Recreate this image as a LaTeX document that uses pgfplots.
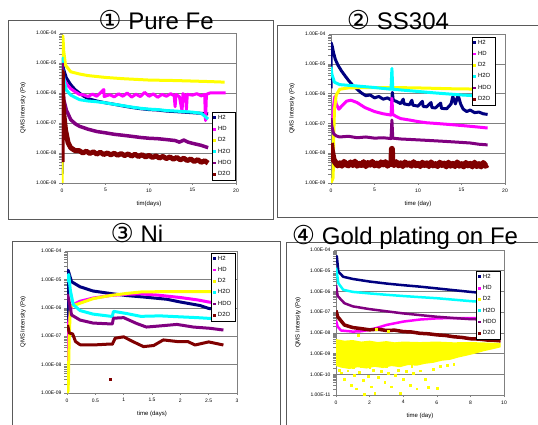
\documentclass[border=0pt]{standalone}
\usepackage{fontspec}
\setmainfont{Liberation Sans}
\newfontfamily\sym{DejaVu Sans}
\usepackage{pgfplots}
\pgfplotsset{compat=1.18}

\definecolor{cH2}{RGB}{0,0,128}
\definecolor{cHD}{RGB}{255,0,255}
\definecolor{cD2}{RGB}{255,255,0}
\definecolor{cH2O}{RGB}{0,255,255}
\definecolor{cHDO}{RGB}{128,0,128}
\definecolor{cD2O}{RGB}{128,0,0}
\definecolor{framegray}{RGB}{90,90,90}
\definecolor{gridgray}{RGB}{128,128,128}

\pgfplotsset{
  legend image code/.code={\fill[#1,draw=none] (0pt,-1.4pt) rectangle (2.8pt,1.4pt);},
}

\pgfplotsset{
  every axis/.append style={
    scale only axis,
    xmin=0,
    axis line style={draw=gridgray, line width=0.5pt},
    ymajorgrids,
    major grid style={draw=gridgray, line width=0.5pt},
    tick style={draw=gridgray, line width=0.4pt},
    major tick length=2pt,
    tick align=outside,
    tick pos=left,
    ticklabel style={font=\fontsize{5}{6}\selectfont},
    xticklabel style={/pgf/number format/assume math mode=true},
    label style={font=\fontsize{6}{7}\selectfont},
    ylabel style={anchor=center},
    xlabel style={at={(axis description cs:0.5,0)}, yshift=-21pt, anchor=center},
    legend style={font=\fontsize{6}{7}\selectfont, draw=black, line width=0.4pt,
      fill=white, inner xsep=1.5pt, inner ysep=0.8pt, row sep=1.6pt,
      cells={anchor=west}},
  },
}

\begin{document}
\begin{tikzpicture}
\useasboundingbox (0pt,0pt) rectangle (538pt,425pt);
\fill[white] (0pt,0pt) rectangle (538pt,425pt);
\clip (0pt,0pt) rectangle (538pt,425pt);

% panel frames
\draw[framegray, line width=0.6pt] (8pt,405pt) rectangle (273pt,206pt);
\draw[framegray, line width=0.6pt] (277pt,400pt) rectangle (545pt,208pt);
\draw[framegray, line width=0.6pt] (12pt,184pt) rectangle (280pt,-5pt);
\draw[framegray, line width=0.6pt] (286pt,183pt) rectangle (545pt,-5pt);

% ---------------- 1 Pure Fe ----------------
\begin{axis}[ymode=log, ymin=1e-9, ymax=1e-4,
  ytick={1e-9,1e-8,1e-7,1e-6,1e-5,1e-4},
  yticklabels={1.00E-09,1.00E-08,1.00E-07,1.00E-06,1.00E-05,1.00E-04},
  at={(62pt,242pt)}, anchor=south west,
  width=174pt, height=150pt, xmax=20, xtick={0,5,10,15,20},
  xlabel={tim(days)}, ylabel={QMS Intensity (Pa)},
  ylabel style={at={(axis description cs:-0.224,0.5)}},
  legend style={at={(0.995,0.473)}, anchor=north east}]
\addplot[cH2, line width=3pt, line join=round] coordinates {(0,2e-9)(0.02,1.3e-5)(0.1,8.5e-6)(0.2,6e-6)(0.5,3.2e-6)(1,1.9e-6)(1.5,1.3e-6)(2,1.0e-6)(2.5,7.8e-7)(3,6.5e-7)(4,5.4e-7)(5,4.7e-7)(6,4.2e-7)(7,3.7e-7)(8,3.3e-7)(9,3.0e-7)(10,2.8e-7)(11,2.7e-7)(12,2.5e-7)(13,2.4e-7)(14,2.3e-7)(15,2.2e-7)(16,2.1e-7)(16.8,2.0e-7)};
\addplot[cHD, line width=3pt, line join=round] coordinates {(0,5e-9)(0.05,2e-6)(0.2,3e-6)(0.5,2e-6)(1,1.4e-6)(1.5,1.1e-6)(2,9.0e-7)(2.5,8.6e-7)(3,7.6e-7)(3.5,9.2e-7)(4,7.8e-7)(4.8,1.3e-6)(4.85,7.6e-7)(5.5,8.8e-7)(6,7.4e-7)(6.5,9.4e-7)(7,7.8e-7)(7.5,1.0e-6)(8,7.3e-7)(8.5,9.1e-7)(9,7.6e-7)(9.5,1.05e-6)(10,7.8e-7)(10.5,9.3e-7)(11,7.2e-7)(11.5,9e-7)(12,7.8e-7)(12.5,9.5e-7)(12.9,8e-7)(13,3.5e-7)(13.1,9e-7)(13.5,7.5e-7)(13.8,2.5e-7)(13.9,9.5e-7)(14.2,8e-7)(14.3,2.8e-7)(14.4,9e-7)(15,8.5e-7)(15.5,9.5e-7)(16,8e-7)(16.4,9e-7)(16.5,1.2e-7)(16.6,9e-7)(17,1.0e-6)(18,1.0e-6)(18.8,1.0e-6)};
\addplot[cD2, line width=3pt, line join=round] coordinates {(0,1e-9)(0.03,5e-5)(0.1,8e-5)(0.2,2.5e-5)(0.4,8.5e-6)(1,5.1e-6)(2,4.3e-6)(3,3.8e-6)(5,3.3e-6)(7,3.0e-6)(10,2.7e-6)(13,2.6e-6)(15,2.5e-6)(17,2.4e-6)(18.7,2.3e-6)};
\addplot[cH2O, line width=3pt, line join=round] coordinates {(0,1.6e-5)(0.1,5e-6)(0.3,2.2e-6)(0.5,1.26e-6)(1,8.5e-7)(2,6.0e-7)(3,5.4e-7)(4,5.1e-7)(5,4.7e-7)(6,4.2e-7)(7,3.8e-7)(8,3.4e-7)(9,3.1e-7)(10,2.9e-7)(11,2.8e-7)(12,2.6e-7)(13,2.5e-7)(14,2.4e-7)(15,2.3e-7)(16,2.1e-7)(16.4,1.7e-7)(16.8,1.35e-7)};
\addplot[cHDO, line width=3.5pt, line join=round] coordinates {(0,1e-5)(0.1,1.5e-6)(0.2,6e-7)(0.5,2.7e-7)(1,1.3e-7)(1.5,9.5e-8)(2,7.8e-8)(3,6.2e-8)(4,5.2e-8)(5,4.7e-8)(6,4.2e-8)(7,3.9e-8)(8,3.6e-8)(9,3.3e-8)(10,3.1e-8)(11,3.0e-8)(12,2.8e-8)(13,2.6e-8)(13.5,2.3e-8)(14,2.7e-8)(14.5,2.3e-8)(15,2.1e-8)(16,1.8e-8)(16.8,1.5e-8)};
\addplot[cD2O, line width=5pt, line join=round] coordinates {(0,5e-9)(0.03,5e-6)(0.08,8e-7)(0.2,2e-7)(0.4,6e-8)(0.7,2.2e-8)(1,1.5e-8)(1.5,1.2e-8)(2,1.19e-8)(2.4,1.0e-8)(2.8,1.15e-8)(3.2,9.6e-9)(3.6,1.1e-8)(4,9.2e-9)(4.4,1.06e-8)(4.8,8.9e-9)(5.2,1.0e-8)(5.6,8.7e-9)(6,9.8e-9)(6.4,8.4e-9)(6.8,9.6e-9)(7.2,8.2e-9)(7.6,9.3e-9)(8,7.9e-9)(8.4,9.1e-9)(8.8,7.6e-9)(9.2,8.8e-9)(9.6,7.4e-9)(10,8.3e-9)(10.4,7.1e-9)(10.8,8.0e-9)(11.2,6.8e-9)(11.6,7.7e-9)(12,6.5e-9)(12.4,7.4e-9)(12.8,6.2e-9)(13.2,7.1e-9)(13.6,5.9e-9)(14,6.7e-9)(14.4,5.6e-9)(14.8,6.3e-9)(15.2,5.2e-9)(15.6,6.0e-9)(16,4.9e-9)(16.4,5.5e-9)(16.8,4.6e-9)};
\legend{H2,HD,D2,H2O,HDO,D2O}
\end{axis}

% ---------------- 2 SS304 ----------------
\begin{axis}[ymode=log, ymin=1e-9, ymax=1e-4,
  ytick={1e-9,1e-8,1e-7,1e-6,1e-5,1e-4},
  yticklabels={1.00E-09,1.00E-08,1.00E-07,1.00E-06,1.00E-05,1.00E-04},
  at={(331pt,242pt)}, anchor=south west,
  width=174pt, height=149pt, xmax=20, xtick={0,5,10,15,20},
  xlabel={time (day)}, ylabel={QMS Intensity (Pa)},
  ylabel style={at={(axis description cs:-0.224,0.5)}},
  legend style={at={(0.943,0.98)}, anchor=north east}]
\addplot[cH2, line width=3pt, line join=round] coordinates {(0,1.5e-6)(0.03,5e-5)(0.15,3.8e-5)(0.3,2.3e-5)(0.5,1.4e-5)(0.8,9e-6)(1.2,5.8e-6)(1.6,4e-6)(2,2.8e-6)(2.5,1.9e-6)(3,1.4e-6)(3.5,1.05e-6)(4,8.5e-7)(4.5,9e-7)(5,7.2e-7)(5.5,8e-7)(6,6.5e-7)(6.5,7.2e-7)(7,5.8e-7)(7.05,1.1e-6)(7.15,6e-7)(7.5,5.5e-7)(8,4.6e-7)(8.3,6.5e-7)(8.4,4.5e-7)(9,4.2e-7)(9.3,6e-7)(9.4,4.1e-7)(10,3.8e-7)(10.5,5.5e-7)(10.6,3.7e-7)(11,3.6e-7)(11.5,5e-7)(11.6,3.4e-7)(12,3.3e-7)(12.6,4.8e-7)(12.7,3.2e-7)(13.3,3.1e-7)(13.8,4.5e-7)(14,8e-7)(14.3,4.5e-7)(14.6,9e-7)(14.9,4.5e-7)(15.2,3.0e-7)(15.6,2.5e-7)(16,2.8e-7)(16.5,2.3e-7)(17,2.4e-7)(17.5,2.1e-7)(18,2.0e-7)};
\addplot[cHD, line width=3pt, line join=round] coordinates {(0.15,1e-7)(0.3,4e-7)(0.45,8e-7)(0.6,4.5e-7)(0.9,3.0e-7)(1.3,4e-7)(1.8,5.6e-7)(2.3,6.0e-7)(3,5.0e-7)(3.9,3.4e-7)(5,2.5e-7)(6,2.1e-7)(6.9,1.9e-7)(7,7e-7)(7.1,2e-7)(7.5,1.7e-7)(8,1.45e-7)(9,1.3e-7)(10,1.15e-7)(11,1.05e-7)(12,1.0e-7)(13,9.5e-8)(14,9e-8)(15,8.5e-8)(16,8e-8)(17,7.5e-8)(18,7e-8)};
\addplot[cD2, line width=3pt, line join=round] coordinates {(0,1e-9)(0.25,1.5e-9)(0.3,3e-8)(0.4,3e-7)(0.6,9e-7)(1,1.4e-6)(2,1.55e-6)(4,1.6e-6)(7,1.6e-6)(10,1.55e-6)(14,1.45e-6)(18,1.4e-6)};
\addplot[cH2O, line width=3pt, line join=round] coordinates {(0,8e-6)(0.1,4.5e-6)(0.4,2.4e-6)(1,2.0e-6)(3,1.8e-6)(5,1.6e-6)(6.9,1.4e-6)(7,7e-6)(7.1,1.4e-6)(9,1.25e-6)(12,1.05e-6)(15,9e-7)(18,8e-7)};
\addplot[cHDO, line width=3pt, line join=round] coordinates {(0,1.5e-7)(0.1,8e-8)(0.3,4.5e-8)(0.6,3.8e-8)(1,3.5e-8)(2,3.7e-8)(3,3.3e-8)(4,3.5e-8)(5,3.2e-8)(6,3.3e-8)(6.9,3.1e-8)(7,1.3e-7)(7.1,3.2e-8)(8,3.0e-8)(9,2.9e-8)(10,2.8e-8)(11,2.7e-8)(12,2.6e-8)(13,2.5e-8)(14,2.4e-8)(15,2.3e-8)(16,2.2e-8)(17,2.0e-8)(18,1.9e-8)};
\addplot[cD2O, line width=6pt, line join=round] coordinates {(0,2.2e-8)(0.1,1.2e-8)(0.3,6e-9)(0.5,4.9e-9)(0.75,3.9e-9)(1.0,4.6e-9)(1.25,3.8e-9)(1.5,5.1e-9)(1.75,4.2e-9)(2.0,3.9e-9)(2.25,4.9e-9)(2.5,4.0e-9)(2.75,5.2e-9)(3.0,3.8e-9)(3.25,4.4e-9)(3.5,4.0e-9)(3.75,5.0e-9)(4.0,3.7e-9)(4.25,4.7e-9)(4.5,4.1e-9)(4.75,5.1e-9)(5.0,3.9e-9)(5.25,4.5e-9)(5.5,3.8e-9)(5.75,4.9e-9)(6.0,4.2e-9)(6.25,5.0e-9)(6.5,3.8e-9)(6.75,4.6e-9)(6.95,4.3e-9)(7.0,1.4e-8)(7.05,4.8e-9)(7.25,4.0e-9)(7.5,5.0e-9)(7.75,3.9e-9)(8.0,4.6e-9)(8.25,3.7e-9)(8.5,4.9e-9)(8.75,4.1e-9)(9.0,4.5e-9)(9.25,3.8e-9)(9.5,5.0e-9)(9.75,3.9e-9)(10.0,4.4e-9)(10.25,3.7e-9)(10.5,4.8e-9)(10.75,4.0e-9)(11.0,4.6e-9)(11.25,3.7e-9)(11.5,4.9e-9)(11.75,3.9e-9)(12.0,4.3e-9)(12.25,3.7e-9)(12.5,4.8e-9)(12.75,4.0e-9)(13.0,4.5e-9)(13.25,3.6e-9)(13.5,4.8e-9)(13.75,3.8e-9)(14.0,4.4e-9)(14.25,3.7e-9)(14.5,4.9e-9)(14.75,3.8e-9)(15.0,4.3e-9)(15.25,3.6e-9)(15.5,4.7e-9)(15.75,3.9e-9)(16.0,4.4e-9)(16.25,3.6e-9)(16.5,4.8e-9)(16.75,3.7e-9)(17.0,4.3e-9)(17.25,3.6e-9)(17.5,4.7e-9)(17.75,3.8e-9)(18.0,4.2e-9)};
\legend{H2,HD,D2,H2O,HDO,D2O}
\end{axis}

% ---------------- 3 Ni ----------------
\begin{axis}[ymode=log, ymin=1e-9, ymax=1e-4,
  ytick={1e-9,1e-8,1e-7,1e-6,1e-5,1e-4},
  yticklabels={1.00E-09,1.00E-08,1.00E-07,1.00E-06,1.00E-05,1.00E-04},
  at={(67pt,32pt)}, anchor=south west,
  width=170pt, height=142pt, xmax=3, xtick={0,0.5,1,1.5,2,2.5,3},
  xlabel={time (days)}, ylabel={QMS Intensity (Pa)},
  ylabel style={at={(axis description cs:-0.259,0.5)}},
  legend style={at={(0.988,0.986)}, anchor=north east}]
\addplot[cH2, line width=3pt, line join=round] coordinates {(0,1e-8)(0.02,2.1e-5)(0.08,8.3e-6)(0.23,5.5e-6)(0.46,3.9e-6)(0.76,3.2e-6)(1.05,2.7e-6)(1.35,2.4e-6)(1.76,2.0e-6)(2.0,1.6e-6)(2.35,1.2e-6)(2.5,9.5e-7)(2.72,8.5e-7)};
\addplot[cHD, line width=3pt, line join=round] coordinates {(0,1e-8)(0.03,3e-7)(0.08,1.2e-6)(0.23,1.7e-6)(0.46,2.2e-6)(0.76,2.7e-6)(1.05,3.0e-6)(1.3,3.1e-6)(1.6,2.8e-6)(2.0,2.3e-6)(2.3,1.9e-6)(2.5,1.6e-6)(2.72,1.4e-6)};
\addplot[cD2, line width=3pt, line join=round] coordinates {(0,1e-9)(0.02,1.2e-9)(0.04,1e-7)(0.06,1.1e-6)(0.23,1.45e-6)(0.46,2.1e-6)(0.76,2.7e-6)(1.05,3.2e-6)(1.3,3.6e-6)(1.64,3.7e-6)(2.0,3.7e-6)(2.47,3.7e-6)(2.72,3.7e-6)};
\addplot[cH2O, line width=3pt, line join=round] coordinates {(0,8e-6)(0.03,1.5e-5)(0.06,4e-6)(0.11,1.3e-6)(0.23,8e-7)(0.46,6e-7)(0.78,5e-7)(0.8,5e-7)(0.82,7.5e-7)(1.05,6.3e-7)(1.3,5.0e-7)(1.64,5.2e-7)(2.0,4.8e-7)(2.3,4.5e-7)(2.72,4.0e-7)};
\addplot[cHDO, line width=3pt, line join=round] coordinates {(0,3e-6)(0.03,2e-6)(0.08,5.6e-7)(0.23,3.7e-7)(0.46,2.9e-7)(0.78,2.7e-7)(0.8,2.7e-7)(0.82,4.3e-7)(1.0,4.5e-7)(1.23,2.8e-7)(1.4,2.1e-7)(1.64,2.3e-7)(1.94,2.6e-7)(2.23,2.1e-7)(2.52,1.9e-7)(2.76,1.65e-7)};
\addplot[cD2O, line width=3pt, line join=round] coordinates {(0.01,2.5e-7)(0.04,1.3e-7)(0.1,1.2e-7)(0.15,6.5e-8)(0.23,5e-8)(0.46,4.9e-8)(0.76,5.3e-8)(0.8,5.2e-8)(0.85,8.5e-8)(1.0,9.5e-8)(1.16,6.5e-8)(1.35,4.3e-8)(1.53,4.7e-8)(1.7,7.4e-8)(1.94,6.5e-8)(2.13,6.5e-8)(2.26,4.9e-8)(2.5,6.3e-8)(2.76,4.9e-8)};
\addplot[cD2O, only marks, mark=square*, mark size=1pt, forget plot] coordinates {(0.77,3e-9)};
\legend{H2,HD,D2,H2O,HDO,D2O}
\end{axis}

% ---------------- 4 Gold plating on Fe ----------------
\begin{axis}[ymode=log, ymin=1e-11, ymax=1e-4,
  ytick={1e-11,1e-10,1e-9,1e-8,1e-7,1e-6,1e-5,1e-4},
  yticklabels={1.00E-11,1.00E-10,1.00E-09,1.00E-08,1.00E-07,1.00E-06,1.00E-05,1.00E-04},
  at={(336pt,30pt)}, anchor=south west,
  width=168pt, height=145pt, xmax=10, xtick={0,2,4,6,8,10},
  xlabel={time (day)}, ylabel={QMS Intensity (Pa)},
  ylabel style={at={(axis description cs:-0.226,0.5)}},
  legend style={at={(0.976,0.855)}, anchor=north east}]
\addplot[cH2, line width=2.5pt, line join=round] coordinates {(0,4e-5)(0.05,5e-5)(0.14,9e-6)(0.43,5.1e-6)(1.0,4.0e-6)(2.0,3.0e-6)(3,2.4e-6)(4,2.0e-6)(5,1.7e-6)(6,1.4e-6)(7,1.15e-6)(8,9.5e-7)(9,8e-7)(9.8,7e-7)};
\addplot[cHD, line width=2.5pt, line join=round] coordinates {(0,4e-8)(0.1,2e-8)(0.3,1.3e-8)(1,1.15e-8)(1.5,1.2e-8)(2,1.4e-8)(2.5,1.8e-8)(3,2.4e-8)(4,3.5e-8)(5,4.4e-8)(6,5e-8)(7,5.2e-8)(8,5.2e-8)(9.8,5.2e-8)};
\addplot[cD2, fill=cD2, draw=none] coordinates {(0,5e-9)(0.5,4.2e-9)(1,4.5e-9)(1.5,3.8e-9)(2,4.2e-9)(2.5,3.6e-9)(3,4e-9)(3.5,3.5e-9)(4,3.8e-9)(5,3.6e-9)(6,3.8e-9)(7,3.5e-9)(8,3.6e-9)(9,3.4e-9)(9.8,3.3e-9)(9.8,2.0e-9)(9.3,1.6e-9)(8.8,1.3e-9)(8.3,1.0e-9)(7.8,8e-10)(7.3,6.5e-10)(6.8,5e-10)(6.3,4.5e-10)(5.8,3.6e-10)(5.3,3.2e-10)(4.8,2.6e-10)(4.3,2.8e-10)(3.8,2.2e-10)(3.3,2.5e-10)(2.8,2e-10)(2.3,2.3e-10)(1.8,1.9e-10)(1.3,2.2e-10)(0.8,1.8e-10)(0.3,2.1e-10)(0,2.5e-10)} -- cycle;
\addplot[cD2, only marks, mark=square*, mark size=0.9pt, forget plot] coordinates {(0.3,1.2e-10)(0.5,6e-11)(0.7,1.5e-10)(0.9,3e-11)(1.1,9e-11)(1.2,2e-11)(1.4,1.3e-10)(1.6,5e-11)(1.7,1.1e-11)(1.9,8e-11)(2.1,2.5e-11)(2.2,1.6e-10)(2.3,1.2e-11)(2.5,7e-11)(2.7,1.4e-10)(2.9,4e-11)(3.1,1.1e-10)(3.3,2.5e-11)(3.5,9e-11)(3.7,1.6e-10)(3.8,1.2e-11)(4.0,6e-11)(4.2,1.4e-10)(4.4,3e-11)(4.6,1.1e-10)(4.8,2e-11)(5.0,1.5e-10)(5.3,6e-11)(5.5,2.3e-11)(5.8,1.8e-10)(6.0,2.2e-11)(6.2,2.5e-10)(6.6,2.8e-10)(7.0,3e-10)(0.2,1.6e-10)(0.6,2.3e-10)(1.0,2.2e-10)(1.5,2.5e-10)(2.0,2.1e-10)(3.0,2.4e-10)(4.5,2.5e-10)(2.4,1.5e-8)(1.3,8e-9)(3.1,1.2e-8)};
\addplot[cH2O, line width=2.5pt, line join=round] coordinates {(0,1.4e-5)(0.05,8e-6)(0.14,2.5e-6)(0.43,1.2e-6)(1,9.5e-7)(2,8e-7)(3,6.9e-7)(4,6.0e-7)(5,5.3e-7)(6,4.7e-7)(7,4.0e-7)(8,3.4e-7)(9,3.0e-7)(9.8,2.7e-7)};
\addplot[cHDO, line width=2.5pt, line join=round] coordinates {(0,2e-6)(0.1,6e-7)(0.5,2.7e-7)(1,1.9e-7)(2,1.4e-7)(3,1.1e-7)(4,8.7e-8)(5,7.2e-8)(6,6e-8)(7,5.2e-8)(8,4.6e-8)(9,4.4e-8)(9.8,4.2e-8)};
\addplot[cD2O, line width=3.5pt, line join=round] coordinates {(0,1.2e-7)(0.1,6e-8)(0.5,2.4e-8)(1,1.8e-8)(1.5,1.6e-8)(2,1.4e-8)(2.5,1.5e-8)(3,1.3e-8)(3.5,1.35e-8)(4,1.15e-8)(4.5,1.1e-8)(5,9.5e-9)(5.5,9e-9)(6,8e-9)(6.5,7.5e-9)(7,6.5e-9)(7.5,6e-9)(8,5.2e-9)(8.5,5e-9)(9,4.5e-9)(9.4,4.4e-9)(9.8,4.1e-9)};
\legend{H2,HD,D2,H2O,HDO,D2O}
\end{axis}

% titles
\node[anchor=base, font=\fontsize{24}{27}\selectfont] at (156pt,395pt) {{\sym\fontsize{26}{27}\selectfont ①}~Pure Fe};
\node[anchor=base, font=\fontsize{24}{27}\selectfont] at (398pt,395pt) {{\sym\fontsize{26}{27}\selectfont ②}~SS304};
\node[anchor=base, font=\fontsize{24}{27}\selectfont] at (137pt,182pt) {{\sym\fontsize{26}{27}\selectfont ③}~Ni};
\node[anchor=base, font=\fontsize{24}{27}\selectfont] at (405pt,180pt) {{\sym\fontsize{26}{27}\selectfont ④}~Gold plating on Fe};
\end{tikzpicture}
\end{document}
